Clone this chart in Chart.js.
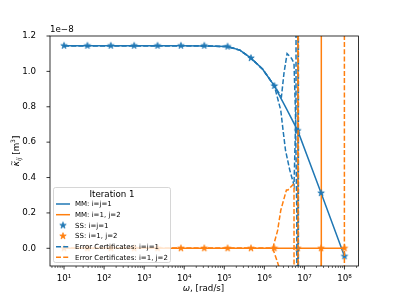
<!DOCTYPE html>
<html>
<head>
<meta charset="utf-8">
<script src="https://cdn.jsdelivr.net/npm/chart.js@4.4.1/dist/chart.umd.min.js"></script>
<style>
  html, body { margin: 0; padding: 0; background: #fff; }
  canvas { display: block; }
</style>
</head>
<body>
<canvas id="myChart_Iteration" width="399" height="299"></canvas>
<script>
// values in units of 1e-8 m^3, omega in rad/s
const starOmega = [10, 38.3, 146.8, 562.3, 2154, 8254, 31623, 121150, 464160, 1778300, 6812900, 26101600, 100000000];
const ssDiag = [1.145, 1.145, 1.145, 1.145, 1.145, 1.145, 1.145, 1.14, 1.075, 0.918, 0.665, 0.312, -0.045];
const ssOff = [0, 0, 0, 0, 0, 0, 0, 0, 0, 0, 0, 0, 0];

const mmDiagOmega = [10, 38.3, 146.8, 562.3, 2154, 8254, 31623, 121150, 245000, 464160, 910000, 1778300, 3550000, 6812900, 26101600, 100000000];
const mmDiag = [1.145, 1.145, 1.145, 1.145, 1.145, 1.145, 1.144, 1.14, 1.12, 1.075, 1.012, 0.918, 0.79, 0.665, 0.312, -0.045];

const mmOffOmega = [10, 38.3, 146.8, 562.3, 2154, 8254, 31623, 121150, 464160, 1778300, 6812900, 6850000, 6880000, 6950000, 26101600, 26250000, 26400000, 26600000, 100000000];
const mmOff = [0, 0, 0, 0, 0, 0, 0, 0, 0, 0, 0, 40, -40, 0, 0, 40, -40, 0, 0];

const ecDiagUpOmega = [10, 38.3, 146.8, 562.3, 2154, 8254, 31623, 121150, 245000, 464160, 910000, 1778300, 2670000, 3090000, 3690000, 4740000, 5500000, 5960000, 6460000, 6920000, 7240000, 100000000];
const ecDiagUp = [1.145, 1.145, 1.145, 1.145, 1.145, 1.145, 1.144, 1.14, 1.12, 1.075, 1.012, 0.918, 0.857, 0.99, 1.10, 1.075, 1.046, 0.78, 0.2, -40, 40, 40];

const ecDiagLoOmega = [10, 38.3, 146.8, 562.3, 2154, 8254, 31623, 121150, 245000, 464160, 910000, 1778300, 2570000, 2930000, 3370000, 4310000, 5500000, 6170000, 6920000, 100000000];
const ecDiagLo = [1.145, 1.145, 1.145, 1.145, 1.145, 1.145, 1.144, 1.14, 1.12, 1.075, 1.012, 0.918, 0.78, 0.668, 0.555, 0.442, 0.357, 0.8, 40, 40];

const ecOffUpOmega = [10, 38.3, 146.8, 562.3, 2154, 8254, 31623, 121150, 464160, 1620000, 2140000, 2570000, 3560000, 3890000, 5200000, 5500000, 6300000, 7670000, 100000000];
const ecOffUp = [0, 0, 0, 0, 0, 0, 0, 0, 0, 0, 0.10, 0.215, 0.33, 0.33, 0.36, 0.35, -40, 40, 40];

const ecOffLoOmega = [10, 38.3, 146.8, 562.3, 2154, 8254, 31623, 121150, 464160, 1620000, 2000000, 2690000, 4000000, 99000000, 100000000];
const ecOffLo = [0, 0, 0, 0, 0, 0, 0, 0, 0, 0, -0.06, -0.15, -1, -40, 40];

const xTicks = [1e1, 1e2, 1e3, 1e4, 1e5, 1e6, 1e7, 1e8];
const yTicks = [0, 0.2, 0.4, 0.6, 0.8, 1.0, 1.2];
const legendLabels = ["MM: i=j=1", "MM: i=1, j=2", "SS: i=j=1", "SS: i=1, j=2", "Error Certificates: i=j=1", "Error Certificates: i=1, j=2"];

const BLUE = "#1f77b4";
const ORANGE = "#ff7f0e";
const FONT = "DejaVu Sans";
const LW = 1.5;
const DASH = [5, 2.2];

function pts(xs, ys) {
  return xs.map((x, i) => ({ x: x, y: ys[i] }));
}

function makeStar(color, r) {
  const c = document.createElement("canvas");
  const s = Math.ceil(2 * r + 3);
  c.width = s; c.height = s;
  const g = c.getContext("2d");
  g.translate(s / 2, s / 2);
  g.beginPath();
  for (let i = 0; i < 10; i++) {
    const rad = i % 2 === 0 ? r : r * 0.382;
    const ang = -Math.PI / 2 + i * Math.PI / 5;
    const px = rad * Math.cos(ang), py = rad * Math.sin(ang);
    if (i === 0) g.moveTo(px, py); else g.lineTo(px, py);
  }
  g.closePath();
  g.fillStyle = color;
  g.fill();
  g.strokeStyle = color;
  g.lineWidth = 0.8;
  g.stroke();
  return c;
}

const starBlue = makeStar(BLUE, 3.4);
const starOrange = makeStar(ORANGE, 3.4);

const supMap = { "0": "⁰", "1": "¹", "2": "²", "3": "³", "4": "⁴", "5": "⁵", "6": "⁶", "7": "⁷", "8": "⁸", "9": "⁹" };

function hline(ctx, x1, y1, x2, y2) {
  ctx.beginPath();
  ctx.moveTo(x1, y1);
  ctx.lineTo(x2, y2);
  ctx.stroke();
}

const decorPlugin = {
  id: "decor",
  afterDatasetsDraw(chart) {
    const ctx = chart.ctx, a = chart.chartArea;
    const xs = chart.scales.x, ys = chart.scales.y;
    ctx.save();
    ctx.strokeStyle = "#000";
    ctx.lineWidth = 0.8;
    ctx.strokeRect(a.left, a.top, a.right - a.left, a.bottom - a.top);

    yTicks.forEach((v) => {
      const p = ys.getPixelForValue(v);
      hline(ctx, a.left - 3.5, p, a.left, p);
    });
    xTicks.forEach((v) => {
      const p = xs.getPixelForValue(v);
      hline(ctx, p, a.bottom, p, a.bottom + 3.5);
    });
    ctx.lineWidth = 0.6;
    for (let e = 0; e <= 8; e++) {
      for (let m = 2; m <= 9; m++) {
        const v = m * Math.pow(10, e);
        if (v < xs.min || v > xs.max) continue;
        const p = xs.getPixelForValue(v);
        hline(ctx, p, a.bottom, p, a.bottom + 2);
      }
    }

    // offset text
    ctx.fillStyle = "#000";
    ctx.font = "8.7px " + FONT;
    ctx.textAlign = "left";
    ctx.textBaseline = "middle";
    ctx.fillText("1e\u22128", a.left, 30);

    // x title
    ctx.textBaseline = "middle";
    ctx.font = "italic 8.7px " + FONT;
    const w1 = ctx.measureText("ω").width;
    ctx.font = "8.7px " + FONT;
    const w2 = ctx.measureText(", [rad/s]").width;
    let x0 = 203.5 - (w1 + w2) / 2;
    ctx.font = "italic 8.7px " + FONT;
    ctx.fillText("ω", x0, 289);
    ctx.font = "8.7px " + FONT;
    ctx.fillText(", [rad/s]", x0 + w1, 289);

    // y title
    ctx.save();
    ctx.translate(19, 151);
    ctx.rotate(-Math.PI / 2);
    ctx.textBaseline = "alphabetic";
    const parts = [
      { t: "κ", f: "italic 9px " + FONT, dy: 0 },
      { t: "ij", f: "italic 6.3px " + FONT, dy: 2 },
      { t: " [m", f: "8.7px " + FONT, dy: 0 },
      { t: "3", f: "6px " + FONT, dy: -3.8 },
      { t: "]", f: "8.7px " + FONT, dy: 0 },
    ];
    let tw = 0;
    parts.forEach((p) => { ctx.font = p.f; p.w = ctx.measureText(p.t).width; tw += p.w; });
    let cx = -tw / 2;
    parts.forEach((p, i) => {
      ctx.font = p.f;
      ctx.fillText(p.t, cx, p.dy);
      if (i === 0) {
        ctx.font = "7px " + FONT;
        ctx.textAlign = "center";
        ctx.fillText("~", cx + p.w / 2 + 0.5, -5.5);
        ctx.textAlign = "left";
      }
      cx += p.w;
    });
    ctx.restore();

    // legend
    const lx = 53.5, ly = 187.5, lw = 117, lh = 75;
    ctx.fillStyle = "rgba(255,255,255,0.8)";
    ctx.strokeStyle = "#cccccc";
    ctx.lineWidth = 0.8;
    ctx.beginPath();
    ctx.roundRect(lx, ly, lw, lh, 2);
    ctx.fill();
    ctx.stroke();
    ctx.fillStyle = "#000";
    ctx.font = "8.7px " + FONT;
    ctx.textAlign = "center";
    ctx.textBaseline = "middle";
    ctx.fillText("Iteration 1", lx + lw / 2, 194.5);
    const rows = [204, 214.7, 225.4, 236.1, 246.8, 257.3];
    const colors = [BLUE, ORANGE, BLUE, ORANGE, BLUE, ORANGE];
    ctx.textAlign = "left";
    ctx.font = "7px " + FONT;
    rows.forEach((ry, i) => {
      if (i === 2 || i === 3) {
        const img = i === 2 ? starBlue : starOrange;
        ctx.drawImage(img, 63 - img.width / 2, ry - img.height / 2);
      } else {
        ctx.strokeStyle = colors[i];
        ctx.lineWidth = LW;
        ctx.setLineDash(i >= 4 ? DASH : []);
        hline(ctx, 56, ry, 70, ry);
        ctx.setLineDash([]);
      }
      ctx.fillStyle = "#000";
      ctx.fillText(legendLabels[i], 75, ry + 0.5);
    });
    ctx.restore();
  },
};

function lineSet(label, xsArr, ysArr, color, dashed, order) {
  return {
    label: label,
    data: pts(xsArr, ysArr),
    borderColor: color,
    backgroundColor: color,
    borderWidth: LW,
    borderDash: dashed ? DASH : [],
    pointRadius: 0,
    tension: 0,
    fill: false,
    clip: 0,
    order: order,
  };
}

function starSet(label, ysArr, img, order) {
  return {
    label: label,
    data: pts(starOmega, ysArr),
    showLine: false,
    pointStyle: img,
    pointRadius: 3.5,
    borderColor: img === starBlue ? BLUE : ORANGE,
    backgroundColor: img === starBlue ? BLUE : ORANGE,
    clip: 0,
    order: order,
  };
}

window.addEventListener("load", function () {
  const ctx = document.getElementById("myChart_Iteration").getContext("2d");
  new Chart(ctx, {
    type: "line",
    data: {
      datasets: [
        lineSet(legendLabels[0], mmDiagOmega, mmDiag, BLUE, false, 7),
        lineSet(legendLabels[1], mmOffOmega, mmOff, ORANGE, false, 6),
        starSet(legendLabels[2], ssDiag, starBlue, 5),
        starSet(legendLabels[3], ssOff, starOrange, 4),
        lineSet(legendLabels[4], ecDiagUpOmega, ecDiagUp, BLUE, true, 3),
        lineSet("", ecDiagLoOmega, ecDiagLo, BLUE, true, 2),
        lineSet(legendLabels[5], ecOffUpOmega, ecOffUp, ORANGE, true, 1),
        lineSet("", ecOffLoOmega, ecOffLo, ORANGE, true, 0),
      ],
    },
    options: {
      responsive: false,
      animation: false,
      devicePixelRatio: 1,
      layout: { padding: { top: 36, right: 40.5, left: 0, bottom: 0 } },
      plugins: { legend: { display: false }, tooltip: { enabled: false } },
      scales: {
        x: {
          type: "logarithmic",
          min: Math.pow(10, 0.65),
          max: Math.pow(10, 8.35),
          grid: { display: false },
          border: { display: false },
          afterBuildTicks: (s) => { s.ticks = xTicks.map((v) => ({ value: v })); },
          afterFit: (s) => { s.height = 33; },
          ticks: {
            autoSkip: false,
            maxRotation: 0,
            padding: 0,
            color: "#000",
            font: { family: FONT, size: 8.7 },
            callback: (v) => "10" + String(Math.round(Math.log10(v))).split("").map((d) => supMap[d]).join(""),
          },
        },
        y: {
          type: "linear",
          min: -0.1,
          max: 1.2,
          grid: { display: false },
          border: { display: false },
          afterBuildTicks: (s) => { s.ticks = yTicks.map((v) => ({ value: v })); },
          afterFit: (s) => { s.width = 50; },
          ticks: {
            padding: 6,
            color: "#000",
            font: { family: FONT, size: 8.7 },
            callback: (v) => v.toFixed(1),
          },
        },
      },
    },
    plugins: [decorPlugin],
  });
});
</script>
</body>
</html>
